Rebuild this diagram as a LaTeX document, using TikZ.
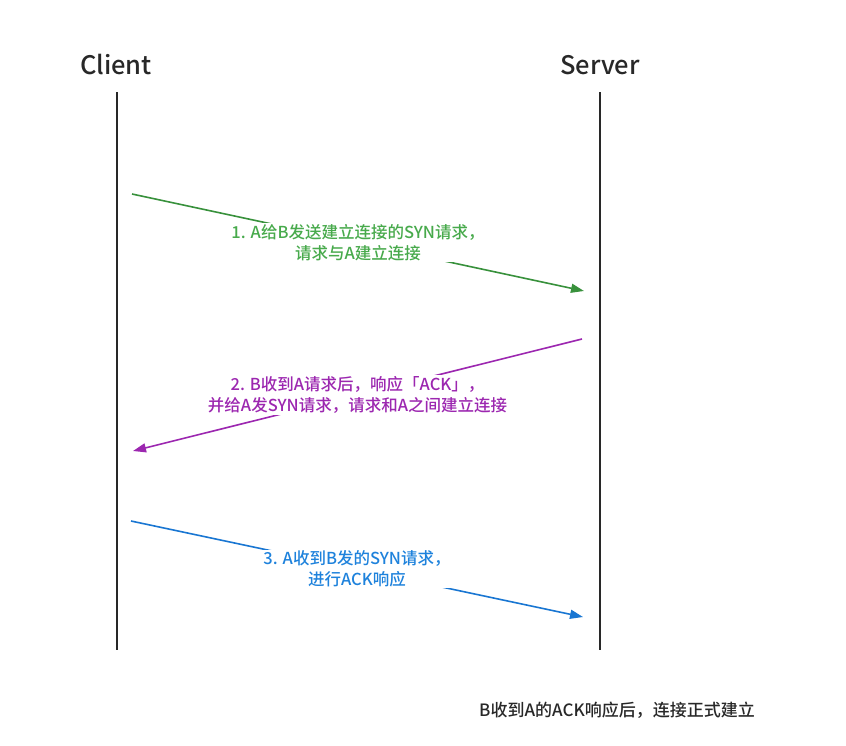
\documentclass[tikz,border=0pt]{standalone}
\usepackage{fontspec}
\setmainfont{Noto Sans CJK SC}[UprightFont={Noto Sans CJK SC Medium}]
\usetikzlibrary{arrows.meta}
\definecolor{hsdark}{RGB}{40,40,40}
\definecolor{hsgreen}{RGB}{56,145,60}
\definecolor{hsgreentx}{RGB}{72,170,76}
\definecolor{hspurple}{RGB}{156,39,176}
\definecolor{hsblue}{RGB}{25,118,210}
\definecolor{hsbluetx}{RGB}{30,130,220}
\tikzset{
  msg/.style={line width=1.6pt,-{Triangle[length=13pt,width=9pt]}},
  msglabel/.style={fill=white,align=center,font=\fontsize{16.5}{21}\selectfont,inner sep=1pt}
}

\begin{document}
\begin{tikzpicture}[x=1pt,y=-1pt]
      \useasboundingbox (0,0) rectangle (846,745);
      % the two parties
      \node[font=\fontsize{25.5}{28}\selectfont,text=hsdark] (client) at (116,65) {Client};
      \node[font=\fontsize{25.5}{28}\selectfont,text=hsdark] (server) at (600,65) {Server};
      \foreach \x/\nm in {117/cl, 600/sv}
        {\coordinate (\nm top) at (\x,92);
         \coordinate (\nm bot) at (\x,650);
         \draw[hsdark,line width=1.6pt] (\nm top) -- (\nm bot);}
      % handshake steps
      \coordinate (s1) at (132,194);  \coordinate (e1) at (584,291);
      \coordinate (s2) at (582,339);  \coordinate (e2) at (133,451);
      \coordinate (s3) at (131,521);  \coordinate (e3) at (583,617);
      \draw[msg,hsgreen] (s1) -- node[msglabel,text=hsgreentx] (m1)
        {1. A给B发送建立连接的SYN请求，\\请求与A建立连接} (e1);
      \draw[msg,hspurple] (s2) -- node[msglabel,text=hspurple] (m2)
        {2. B收到A请求后，响应「ACK」，\\并给A发SYN请求，请求和A之间建立连接} (e2);
      \draw[msg,hsblue] (s3) -- node[msglabel,text=hsbluetx] (m3)
        {3. A收到B发的SYN请求，\\进行ACK响应} (e3);
      \node[font=\fontsize{17}{20}\selectfont,text=hsdark] (done) at (617,710)
        {B收到A的ACK响应后，连接正式建立};
    \end{tikzpicture}
\end{document}
